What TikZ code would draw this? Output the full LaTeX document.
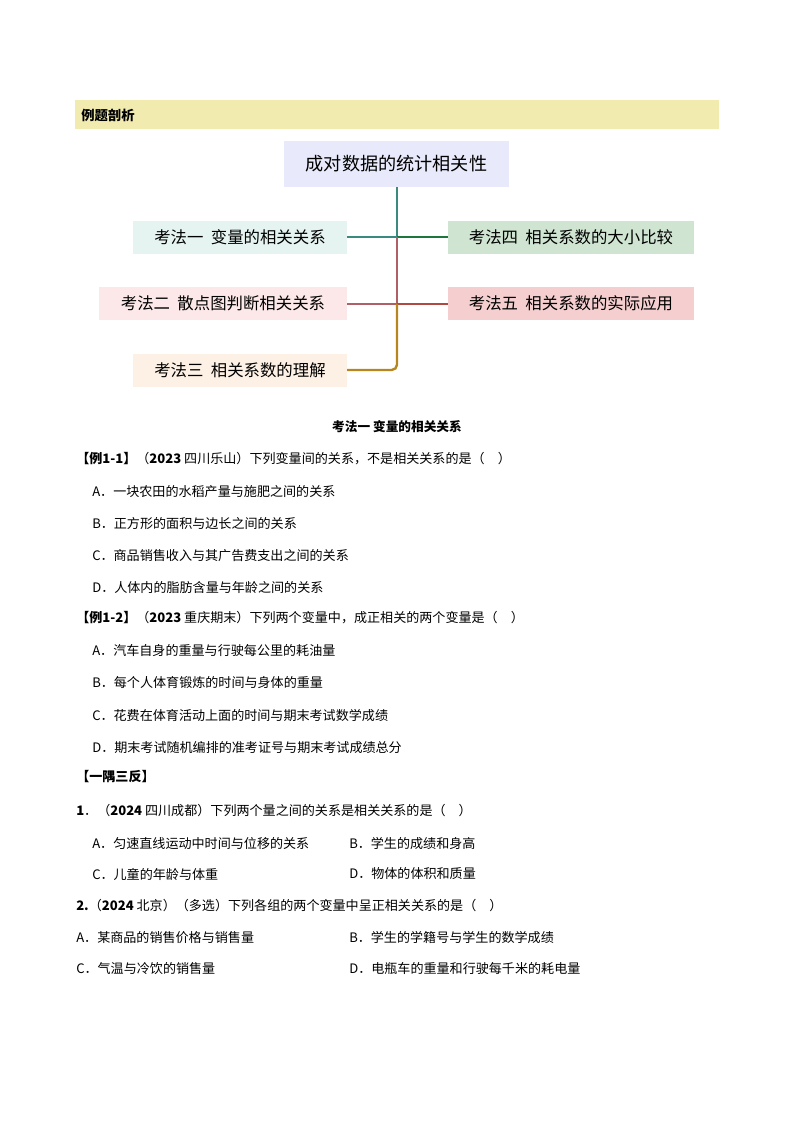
\documentclass[tikz,border=0pt]{standalone}
\usepackage{fontspec}
\setmainfont{Noto Sans CJK SC}
\begin{document}
\begin{tikzpicture}[x=0.75pt,y=-0.75pt,
  bx/.style={inner sep=0pt,font=\fontsize{12.3}{14}\selectfont},
  tx/.style={anchor=west,inner sep=0pt,font=\fontsize{9.8}{12}\selectfont},
  ln/.style={line width=1.8pt}]
\useasboundingbox (0,0) rectangle (794,1123);
\definecolor{hdr}{HTML}{F2EBB0}
\fill[hdr] (75,100) rectangle (719,129);
\node[tx,font=\fontsize{10}{12}\selectfont\bfseries] (hd) at (81,115) {例题剖析};
\fill[fill={rgb,255:red,232;green,234;blue,251}] (284,141) rectangle (509,187);
\node[bx,font=\fontsize{13.6}{16}\selectfont] (root) at (396.5,164) {成对数据的统计相关性};
\fill[fill={rgb,255:red,230;green,244;blue,241}] (133,221) rectangle (347,254);
\node[bx] (k1) at (240,237.5) {考法一\ \ 变量的相关关系};
\fill[fill={rgb,255:red,252;green,232;blue,232}] (99,287) rectangle (347,320);
\node[bx] (k2) at (223,303.5) {考法二\ \ 散点图判断相关关系};
\fill[fill={rgb,255:red,253;green,240;blue,228}] (133,354) rectangle (347,387);
\node[bx] (k3) at (240,370.5) {考法三\ \ 相关系数的理解};
\fill[fill={rgb,255:red,207;green,229;blue,210}] (448,221) rectangle (694,254);
\node[bx] (k4) at (571,237.5) {考法四\ \ 相关系数的大小比较};
\fill[fill={rgb,255:red,245;green,207;blue,207}] (448,287) rectangle (694,320);
\node[bx] (k5) at (571,303.5) {考法五\ \ 相关系数的实际应用};
\coordinate (r) at (397,187);
\coordinate (j1) at (397,237);
\coordinate (j2) at (397,304);
\coordinate (e1) at (347,237);\coordinate (e2) at (347,304);\coordinate (e3) at (347,370);
\coordinate (e4) at (448,237);\coordinate (e5) at (448,304);
\draw[ln,color={rgb,255:red,58;green,138;blue,128}] (r) -- (j1) -- (e1);
\draw[ln,color={rgb,255:red,30;green,118;blue,60}] (j1) -- (e4);
\draw[ln,color={rgb,255:red,176;green,96;blue,100}] (j1) -- (j2) -- (e2);
\draw[ln,color={rgb,255:red,176;green,74;blue,64}] (j2) -- (e5);
\draw[ln,color={rgb,255:red,184;green,134;blue,30},rounded corners=4pt] (j2) -- (397,370) -- (e3);
\node[inner sep=0pt,font=\fontsize{9.5}{12}\selectfont\bfseries] (h1) at (397,427) {考法一\ 变量的相关关系};
\node[tx] (a1) at (76,459) {\textbf{【例1-1】}（\textbf{2023} 四川乐山）下列变量间的关系，不是相关关系的是（\quad）};
\node[tx] (a2) at (92,492) {A．一块农田的水稻产量与施肥之间的关系};
\node[tx] (a3) at (92,524) {B．正方形的面积与边长之间的关系};
\node[tx] (a4) at (92,556) {C．商品销售收入与其广告费支出之间的关系};
\node[tx] (a5) at (92,588) {D．人体内的脂肪含量与年龄之间的关系};
\node[tx] (b1) at (76,618) {\textbf{【例1-2】}（\textbf{2023} 重庆期末）下列两个变量中，成正相关的两个变量是（\quad）};
\node[tx] (b2) at (92,651) {A．汽车自身的重量与行驶每公里的耗油量};
\node[tx] (b3) at (92,683) {B．每个人体育锻炼的时间与身体的重量};
\node[tx] (b4) at (92,716) {C．花费在体育活动上面的时间与期末考试数学成绩};
\node[tx] (b5) at (92,748) {D．期末考试随机编排的准考证号与期末考试成绩总分};
\node[tx] (c0) at (76,777) {\textbf{【一隅三反】}};
\node[tx] (c1) at (76,811) {\textbf{1}．（\textbf{2024} 四川成都）下列两个量之间的关系是相关关系的是（\quad）};
\node[tx] (c2) at (92,844) {A．匀速直线运动中时间与位移的关系};
\node[tx] (c3) at (349,844) {B．学生的成绩和身高};
\node[tx] (c4) at (92,874) {C．儿童的年龄与体重};
\node[tx] (c5) at (349,874) {D．物体的体积和质量};
\node[tx] (d1) at (76,906) {\textbf{2.}（\textbf{2024} 北京）（多选）下列各组的两个变量中呈正相关关系的是（\quad）};
\node[tx] (d2) at (76,938) {A．某商品的销售价格与销售量};
\node[tx] (d3) at (349,938) {B．学生的学籍号与学生的数学成绩};
\node[tx] (d4) at (76,969) {C．气温与冷饮的销售量};
\node[tx] (d5) at (349,969) {D．电瓶车的重量和行驶每千米的耗电量};
\end{tikzpicture}
\end{document}
